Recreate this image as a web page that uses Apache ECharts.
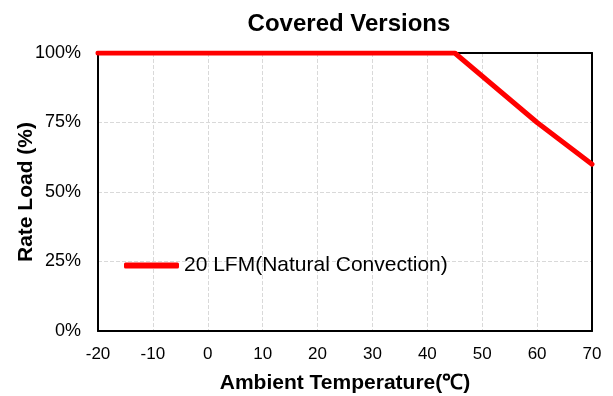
<!DOCTYPE html>
<html>
<head>
<meta charset="utf-8">
<script src="https://cdn.jsdelivr.net/npm/echarts@6/dist/echarts.min.js"></script>
<style>
  html, body { margin: 0; padding: 0; background: #fff; }
  #chart { width: 613px; height: 396px; }
</style>
</head>
<body>
<div id="chart"></div>
<script>
// derating curve, ambient temp (°C) vs rated load (%)
const temps = [-20, 45, 60, 70]
const loads = [100, 100, 75, 60]
const seriesName = "20 LFM(Natural Convection)"

const points = temps.map((t, i) => [t, loads[i]])

const chart = echarts.init(document.getElementById("chart"))
const font = "Liberation Sans, Arial, sans-serif"
const gridLine = { show: true, lineStyle: { color: "#d9d9d9", type: "dashed", width: 1 } }

// top / right frame lines are drawn by extra axes with no labels
const frameAxis = {
  type: "value",
  axisLine: { show: true, onZero: false, lineStyle: { color: "#000", width: 2 } },
  axisTick: { show: false },
  axisLabel: { show: false },
  splitLine: { show: false }
}

const option = {
  backgroundColor: "#fff",
  animation: false,
  title: {
    text: "Covered Versions",
    left: 344,
    textAlign: "center",
    top: 7,
    textStyle: { fontFamily: font, fontSize: 24, fontWeight: "bold", color: "#000" }
  },
  legend: {
    left: 119,
    top: 250,
    icon: "roundRect",
    itemWidth: 55,
    itemHeight: 6,
    data: [seriesName],
    textStyle: { fontFamily: font, fontSize: 21, color: "#000" }
  },
  grid: {
    left: 98,
    right: 21,
    top: 53,
    bottom: 65,
    outerBoundsMode: "none"
  },
  xAxis: [
    {
      type: "value",
      min: -20,
      max: 70,
      interval: 10,
      name: "Ambient Temperature(℃)",
      nameLocation: "middle",
      nameGap: 42,
      nameMoveOverlap: false,
      nameTextStyle: { fontFamily: font, fontSize: 21, fontWeight: "bold", color: "#000" },
      axisLine: { show: true, onZero: false, lineStyle: { color: "#000", width: 2 } },
      axisTick: { show: false },
      axisLabel: { margin: 15, fontFamily: font, fontSize: 17, color: "#000" },
      splitLine: gridLine
    },
    Object.assign({ position: "top", min: -20, max: 70 }, frameAxis)
  ],
  yAxis: [
    {
      type: "value",
      min: 0,
      max: 100,
      interval: 25,
      name: "Rate Load (%)",
      nameLocation: "middle",
      nameGap: 61,
      nameMoveOverlap: false,
      nameTextStyle: { fontFamily: font, fontSize: 21, fontWeight: "bold", color: "#000" },
      axisLine: { show: true, onZero: false, lineStyle: { color: "#000", width: 2 } },
      axisTick: { show: false },
      axisLabel: { margin: 17, fontFamily: font, fontSize: 18, color: "#000", formatter: "{value}%" },
      splitLine: gridLine
    },
    Object.assign({ position: "right", min: 0, max: 100 }, frameAxis)
  ],
  series: [
    {
      name: seriesName,
      type: "line",
      data: points,
      symbol: "none",
      color: "#ff0000",
      lineStyle: { color: "#ff0000", width: 5, cap: "round", join: "round" },
      z: 5
    }
  ]
}

chart.setOption(option)
</script>
</body>
</html>
